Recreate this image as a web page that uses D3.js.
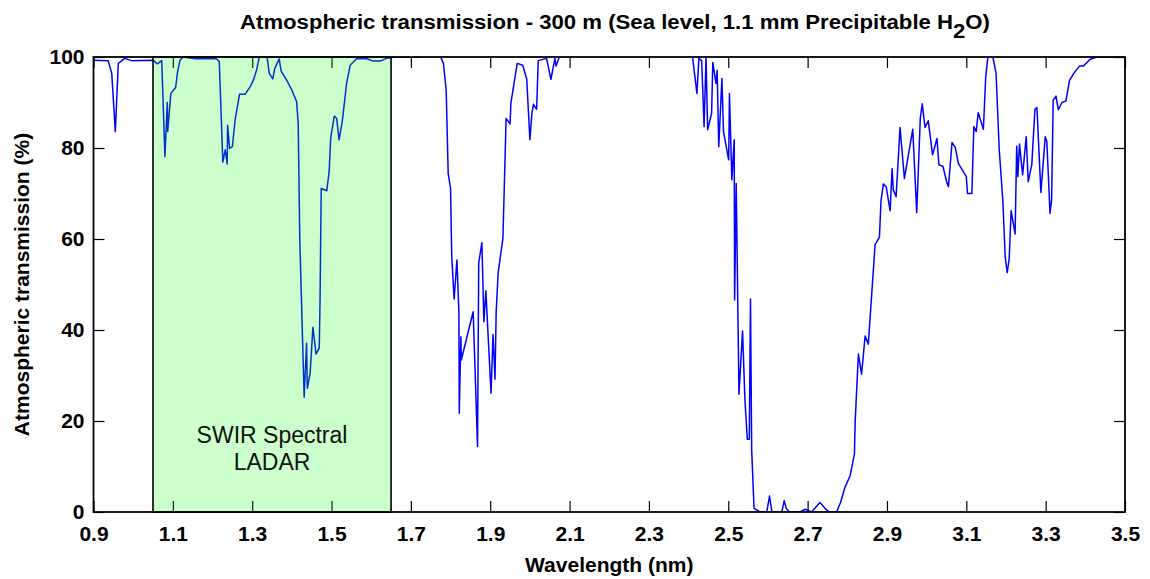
<!DOCTYPE html>
<html>
<head>
<meta charset="utf-8">
<script src="https://cdn.jsdelivr.net/npm/d3@7"></script>
<style>
  body { margin: 0; background: #fff; }
  svg { display: block; font-family: "Liberation Sans", Arial, sans-serif; }
  .tick text { font-size: 21px; font-weight: bold; fill: #000; }
  .tick line { stroke: #000; stroke-width: 1.2; }
</style>
</head>
<body>
<svg id="chart" width="1150" height="579"></svg>
<script>
// wavelength (µm, labelled nm in the source) and transmission (%)
const wavelength = [
  0.900, 0.937, 0.946, 0.955, 0.9625, 0.979, 0.996, 1.050, 1.061, 1.072,
  1.080, 1.086, 1.087, 1.095, 1.107, 1.112, 1.118, 1.126, 1.156, 1.210,
  1.217, 1.226, 1.232, 1.237, 1.238, 1.243, 1.250, 1.257, 1.268, 1.282,
  1.295, 1.303, 1.311, 1.318, 1.325, 1.333, 1.338, 1.343, 1.352, 1.357,
  1.368, 1.373, 1.387, 1.400, 1.412, 1.416, 1.420, 1.427, 1.431, 1.437,
  1.439, 1.446, 1.453, 1.461, 1.469, 1.471, 1.474, 1.488, 1.494, 1.498,
  1.507, 1.513, 1.519, 1.527, 1.538, 1.547, 1.563, 1.589, 1.605, 1.622,
  1.639, 1.660, 1.720, 1.726, 1.769, 1.775, 1.782, 1.789, 1.794, 1.800,
  1.803, 1.809, 1.816, 1.821, 1.822, 1.826, 1.827, 1.857, 1.868, 1.871,
  1.879, 1.884, 1.889, 1.902, 1.907, 1.912, 1.915, 1.920, 1.932, 1.940,
  1.950, 1.952, 1.968, 1.982, 1.992, 2.000, 2.005, 2.009, 2.017, 2.021,
  2.042, 2.053, 2.063, 2.066, 2.074, 2.080, 2.400, 2.410, 2.421, 2.426,
  2.433, 2.439, 2.444, 2.448, 2.458, 2.461, 2.469, 2.472, 2.476, 2.484,
  2.488, 2.501, 2.503, 2.509, 2.515, 2.516, 2.520, 2.527, 2.536, 2.542,
  2.548, 2.553, 2.556, 2.559, 2.565, 2.580, 2.597, 2.604, 2.610, 2.635,
  2.641, 2.646, 2.654, 2.681, 2.694, 2.710, 2.731, 2.746, 2.756, 2.773,
  2.783, 2.794, 2.807, 2.818, 2.820, 2.828, 2.836, 2.845, 2.853, 2.870,
  2.881, 2.885, 2.891, 2.898, 2.908, 2.913, 2.916, 2.923, 2.933, 2.944,
  2.965, 2.975, 2.984, 2.989, 2.996, 3.004, 3.015, 3.026, 3.031, 3.041,
  3.051, 3.055, 3.064, 3.072, 3.080, 3.100, 3.103, 3.114, 3.119, 3.125,
  3.130, 3.143, 3.149, 3.154, 3.158, 3.164, 3.167, 3.175, 3.183, 3.192,
  3.198, 3.203, 3.208, 3.213, 3.223, 3.227, 3.230, 3.234, 3.242, 3.251,
  3.256, 3.265, 3.273, 3.278, 3.288, 3.299, 3.303, 3.311, 3.315, 3.319,
  3.326, 3.332, 3.341, 3.351, 3.360, 3.370, 3.385, 3.395, 3.412, 3.429,
  3.500
];
const transmission = [
  99.3, 99.2, 96.4, 83.6, 98.6, 99.7, 99.2, 99.3, 98.5, 99.2,
  78.1, 90.0, 83.6, 92.0, 93.3, 96.8, 99.3, 100.0, 99.6, 99.6,
  99.0, 76.9, 79.6, 76.5, 85.0, 79.9, 80.3, 86.2, 91.8, 91.8,
  93.5, 94.9, 97.1, 100.0, 101.5, 101.5, 99.7, 96.4, 95.2, 97.5,
  99.6, 96.9, 94.9, 92.7, 90.2, 85.4, 59.8, 37.8, 25.2, 37.1,
  27.2, 30.5, 40.6, 34.7, 36.0, 46.2, 71.1, 70.6, 74.8, 82.3,
  87.0, 86.5, 81.8, 85.8, 94.2, 98.2, 99.6, 99.6, 99.1, 99.1,
  99.7, 100.0, 100.0, 101.0, 101.0, 100.0, 98.6, 92.7, 74.4, 71.1,
  56.1, 46.8, 55.4, 44.0, 21.7, 38.5, 33.4, 44.0, 14.4, 54.7,
  59.2, 41.8, 48.6, 26.1, 39.0, 29.2, 44.0, 52.6, 60.2, 86.5,
  85.3, 89.8, 98.6, 98.2, 95.1, 81.8, 87.6, 89.6, 88.5, 99.2,
  99.7, 95.1, 99.7, 98.0, 100.0, 101.5, 101.5, 100.0, 92.0, 99.7,
  99.2, 84.7, 100.0, 84.0, 87.6, 98.8, 94.2, 97.1, 80.3, 95.3,
  83.6, 77.4, 92.0, 73.0, 81.8, 46.6, 72.2, 25.9, 39.8, 24.6,
  16.0, 16.0, 46.8, 13.6, 0.8, 0.0, 0.0, 3.5, 0.0, 0.0,
  2.5, 0.8, 0.0, 0.0, 0.6, 0.0, 2.1, 0.6, 0.0, 0.0,
  2.1, 5.4, 7.9, 12.7, 20.2, 34.7, 30.3, 38.7, 36.9, 58.7,
  60.4, 68.4, 72.1, 71.5, 66.2, 75.5, 70.8, 69.3, 84.5, 73.3,
  84.1, 65.8, 86.5, 89.7, 84.5, 86.0, 78.5, 82.1, 76.3, 76.0,
  72.4, 71.5, 81.2, 80.2, 76.6, 73.7, 70.0, 70.0, 84.7, 83.6,
  87.8, 84.1, 95.7, 99.7, 101.5, 101.5, 100.0, 96.4, 79.6, 68.6,
  56.1, 52.6, 55.5, 66.2, 61.1, 80.4, 73.7, 80.9, 74.1, 82.5,
  72.6, 76.3, 88.5, 88.9, 70.2, 82.5, 81.4, 65.6, 68.6, 90.5,
  91.4, 88.4, 90.0, 90.3, 94.8, 96.3, 98.0, 98.0, 99.5, 100.0,
  100.0
];
const xTicks = [0.9, 1.1, 1.3, 1.5, 1.7, 1.9, 2.1, 2.3, 2.5, 2.7, 2.9, 3.1, 3.3, 3.5];
const yTicks = [0, 20, 40, 60, 80, 100];
const band = [1.05, 1.65];
const bandLabel = ['SWIR Spectral', 'LADAR'];

const svg = d3.select('#chart');
const margin = { left: 93.5, right: 25, top: 57, bottom: 67 };
const W = 1150, H = 579;

const x = d3.scaleLinear().domain([0.9, 3.5]).range([margin.left, W - margin.right]);
const y = d3.scaleLinear().domain([0, 100]).range([H - margin.bottom, margin.top]);

svg.append('defs').append('clipPath').attr('id', 'plotClip')
  .append('rect')
  .attr('x', x(0.9)).attr('y', y(100))
  .attr('width', x(3.5) - x(0.9)).attr('height', y(0) - y(100));

// axes with inward ticks on all four sides
const tk = 11;
svg.append('g')
  .attr('transform', `translate(0,${y(0)})`)
  .call(d3.axisBottom(x).tickValues(xTicks).tickFormat(d3.format('.1f'))
    .tickSizeInner(-tk).tickSizeOuter(0).tickPadding(14));
svg.append('g')
  .attr('transform', `translate(0,${y(100)})`)
  .call(d3.axisTop(x).tickValues(xTicks).tickFormat('')
    .tickSizeInner(-tk).tickSizeOuter(0));
svg.append('g')
  .attr('transform', `translate(${x(0.9)},0)`)
  .call(d3.axisLeft(y).tickValues(yTicks)
    .tickSizeInner(-tk).tickSizeOuter(0).tickPadding(9));
svg.append('g')
  .attr('transform', `translate(${x(3.5)},0)`)
  .call(d3.axisRight(y).tickValues(yTicks).tickFormat('')
    .tickSizeInner(-tk).tickSizeOuter(0));
svg.selectAll('.domain').remove();

// spectrum
const pts = wavelength.map((w, i) => [w, transmission[i]]);
svg.append('path')
  .datum(pts)
  .attr('clip-path', 'url(#plotClip)')
  .attr('fill', 'none')
  .attr('stroke', '#0000ff')
  .attr('stroke-width', 1.5)
  .attr('stroke-linejoin', 'round')
  .attr('d', d3.line().x(d => x(d[0])).y(d => y(d[1])));

// translucent band over the line and ticks
svg.append('rect')
  .attr('x', x(band[0])).attr('y', y(100))
  .attr('width', x(band[1]) - x(band[0])).attr('height', y(0) - y(100))
  .attr('fill', 'rgb(0,255,0)').attr('fill-opacity', 0.2)
  .attr('stroke', '#000').attr('stroke-width', 1.6);

svg.append('text')
  .attr('x', (x(band[0]) + x(band[1])) / 2).attr('y', 443)
  .attr('text-anchor', 'middle')
  .style('font-size', '23px').style('fill', '#111')
  .selectAll('tspan').data(bandLabel).join('tspan')
  .attr('x', (x(band[0]) + x(band[1])) / 2)
  .attr('dy', (d, i) => i ? 27 : 0)
  .text(d => d);

// frame
svg.append('rect')
  .attr('x', x(0.9)).attr('y', y(100))
  .attr('width', x(3.5) - x(0.9)).attr('height', y(0) - y(100))
  .attr('fill', 'none').attr('stroke', '#000').attr('stroke-width', 1.8);

// titles
const title = svg.append('text')
  .attr('x', 615).attr('y', 29)
  .attr('text-anchor', 'middle')
  .attr('textLength', 750).attr('lengthAdjust', 'spacingAndGlyphs')
  .style('font-size', '20px').style('font-weight', 'bold').style('fill', '#000');
title.append('tspan').text('Atmospheric transmission - 300 m (Sea level, 1.1 mm Precipitable H');
title.append('tspan').attr('dy', 9).text('2');
title.append('tspan').attr('dy', -9).text('O)');

svg.append('text')
  .attr('x', (x(0.9) + x(3.5)) / 2).attr('y', 572)
  .attr('text-anchor', 'middle')
  .style('font-size', '21px').style('font-weight', 'bold')
  .text('Wavelength (nm)');

svg.append('text')
  .attr('transform', `translate(29,${(y(0) + y(100)) / 2}) rotate(-90)`)
  .attr('text-anchor', 'middle')
  .style('font-size', '21px').style('font-weight', 'bold')
  .text('Atmospheric transmission (%)');
</script>
</body>
</html>
